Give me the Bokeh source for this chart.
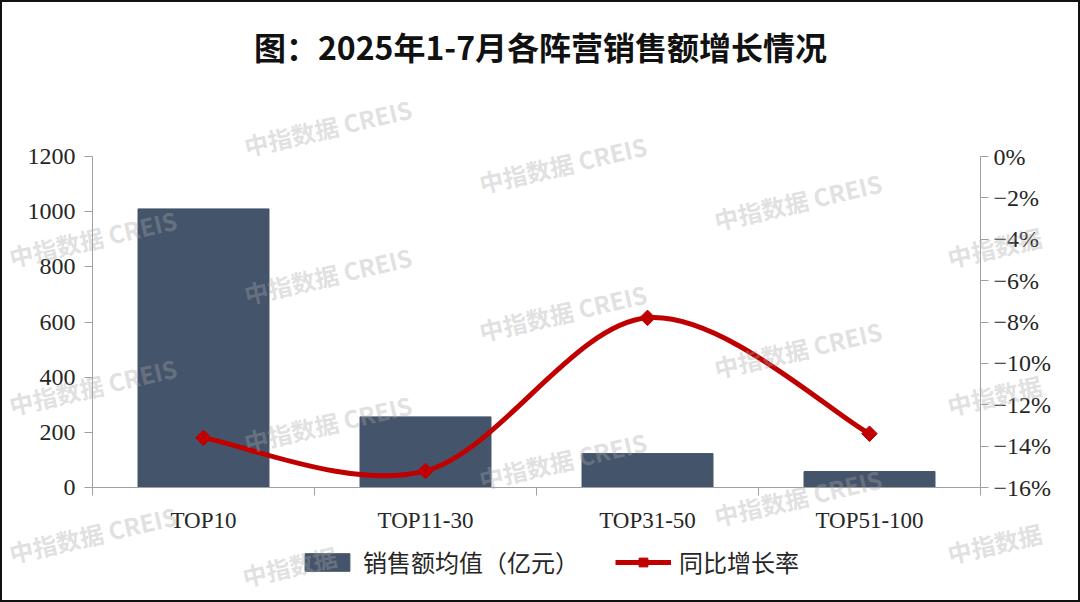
import numpy as np
from bokeh.plotting import figure
from bokeh.layouts import column
from bokeh.models import (Range1d, LinearAxis, FixedTicker, ColumnDataSource, Legend,
                          LegendItem, Label)
from bokeh.embed import file_html
from bokeh.resources import INLINE

# ---- data ----
categories = ["TOP10", "TOP11-30", "TOP31-50", "TOP51-100"]
sales_avg = [1010, 256, 123, 58]          # 销售额均值（亿元）
yoy_pct = [-13.6, -15.2, -7.8, -13.4]     # 同比增长率 (%)
left_ticks = [0, 200, 400, 600, 800, 1000, 1200]
right_ticks = [0, -2, -4, -6, -8, -10, -12, -14, -16]
right_labels = ["0%", "−2%", "−4%", "−6%", "−8%", "−10%", "−12%", "−14%", "−16%"]
title_text = "图：2025年1-7月各阵营销售额增长情况"
bar_label = "销售额均值（亿元）"
line_label = "同比增长率"
watermark = "中指数据  CREIS"
watermark_short = "中指数据"

BAR = "#44546A"
RED = "#C00000"
AXIS = "#A0A0A0"
TXT = "#262626"
WM_ANGLE = np.deg2rad(13)
WM = dict(angle=WM_ANGLE, text_align="center", text_baseline="middle",
          text_font="Noto Sans CJK SC", text_font_size="24px", text_font_style="bold",
          text_color="#A8A8A8", text_alpha=0.36)

n = len(categories)
xc = [i + 0.5 for i in range(n)]

# page layout (page pixels): head 2-120, chart 120-540, legend 540-600
W = 1076
FL, FR = 90, 98   # frame margins shared by all stacked figures (frame: page x 92..980)


def strip(h, top, bottom):
    f = figure(width=W, height=h, output_backend="svg", toolbar_location=None,
               x_range=Range1d(92, 980), y_range=Range1d(bottom, top),
               x_axis_location=None, y_axis_location=None,
               min_border_left=FL, min_border_right=FR, min_border_top=0,
               min_border_bottom=0)
    f.grid.grid_line_color = None
    f.outline_line_color = None
    return f


head = strip(118, 2, 120)
head.add_layout(Label(x=540, y=45, text=title_text, text_align="center",
                      text_baseline="middle", text_font="Noto Sans CJK SC",
                      text_font_style="bold", text_font_size="32px",
                      text_color="#111111"))

p = figure(width=W, height=420, output_backend="svg", toolbar_location=None,
           x_range=Range1d(0, n), y_range=Range1d(0, 1200),
           min_border_left=FL, min_border_right=FR, min_border_top=36,
           min_border_bottom=53)
p.extra_y_ranges = {"pct": Range1d(-16, 0)}
p.outline_line_color = None
p.grid.grid_line_color = None

# bars
src_bar = ColumnDataSource(dict(x=xc, top=sales_avg))
p.vbar(x="x", top="top", width=0.59, source=src_bar, fill_color=BAR, line_color=BAR)

# smooth line (cubic bezier through the data points, Catmull-Rom style tangents)
pts = list(zip(xc, yoy_pct))
x0s, y0s, x1s, y1s, cx0s, cy0s, cx1s, cy1s = ([] for _ in range(8))
for i in range(n - 1):
    pm = pts[i - 1] if i > 0 else pts[i]
    pa = pts[i]
    pb = pts[i + 1]
    pn = pts[i + 2] if i + 2 < n else pts[i + 1]
    x0s.append(pa[0]); y0s.append(pa[1])
    x1s.append(pb[0]); y1s.append(pb[1])
    cx0s.append(pa[0] + (pb[0] - pm[0]) / 6.0)
    cy0s.append(pa[1] + (pb[1] - pm[1]) / 6.0)
    cx1s.append(pb[0] - (pn[0] - pa[0]) / 6.0)
    cy1s.append(pb[1] - (pn[1] - pa[1]) / 6.0)
src_bz = ColumnDataSource(dict(x0=x0s, y0=y0s, x1=x1s, y1=y1s,
                               cx0=cx0s, cy0=cy0s, cx1=cx1s, cy1=cy1s))
bz_style = dict(line_color=RED, line_width=5)
mk_style = dict(marker="square", angle=np.pi / 4, size=11, fill_color=RED, line_color=RED)
p.bezier(x0="x0", y0="y0", x1="x1", y1="y1", cx0="cx0", cy0="cy0",
         cx1="cx1", cy1="cy1", source=src_bz, y_range_name="pct", **bz_style)
src_pt = ColumnDataSource(dict(x=xc, y=yoy_pct))
p.scatter(x="x", y="y", source=src_pt, y_range_name="pct", **mk_style)

# axes
xa = p.xaxis[0]
xa.ticker = FixedTicker(ticks=xc, minor_ticks=list(range(n + 1)))
xa.major_label_overrides = {xc[i]: categories[i] for i in range(n)}
xa.major_tick_line_color = None
xa.major_tick_out = 0
xa.major_tick_in = 0
xa.minor_tick_line_color = AXIS
xa.minor_tick_out = 8
xa.minor_tick_in = 0
xa.axis_line_color = AXIS
xa.major_label_text_font = "Liberation Serif"
xa.major_label_text_font_size = "23px"
xa.major_label_text_color = TXT
xa.major_label_standoff = 12

ya = p.yaxis[0]
ya.ticker = FixedTicker(ticks=left_ticks)
ya.minor_tick_line_color = None
ya.major_tick_out = 8
ya.major_tick_in = 0
ya.major_tick_line_color = AXIS
ya.axis_line_color = AXIS
ya.major_label_text_font = "Liberation Serif"
ya.major_label_text_font_size = "24px"
ya.major_label_text_color = TXT
ya.major_label_standoff = 9

ra = LinearAxis(y_range_name="pct", ticker=FixedTicker(ticks=right_ticks))
ra.major_label_overrides = {right_ticks[i]: right_labels[i] for i in range(len(right_ticks))}
ra.minor_tick_line_color = None
ra.major_tick_out = 8
ra.major_tick_in = 0
ra.major_tick_line_color = AXIS
ra.axis_line_color = AXIS
ra.major_label_text_font = "Liberation Serif"
ra.major_label_text_font_size = "24px"
ra.major_label_text_color = TXT
ra.major_label_standoff = 5
p.add_layout(ra, "right")

# legend strip: legend glyphs use the same data, mapped to ranges out of view
leg = strip(60, 540, 600)
leg.extra_x_ranges = {"off": Range1d(1e6, 1e6 + 1)}
leg.extra_y_ranges = {"off": Range1d(1e6, 1e6 + 1)}
lb = leg.vbar(x="x", top="top", width=0.59, source=src_bar, fill_color=BAR,
              line_color=BAR, x_range_name="off", y_range_name="off")
lc = leg.bezier(x0="x0", y0="y0", x1="x1", y1="y1", cx0="cx0", cy0="cy0",
                cx1="cx1", cy1="cy1", source=src_bz, x_range_name="off",
                y_range_name="off", **bz_style)
lm = leg.scatter(x="x", y="y", source=src_pt, x_range_name="off", y_range_name="off",
                 **mk_style)
legend = Legend(items=[LegendItem(label=bar_label, renderers=[lb]),
                       LegendItem(label=line_label, renderers=[lc, lm])],
                orientation="horizontal", location=(207, 21),
                glyph_width=56, glyph_height=22, label_standoff=8, spacing=36,
                padding=0, margin=0, border_line_color=None,
                background_fill_alpha=0,
                label_text_font="Noto Sans CJK SC", label_text_font_size="24px",
                label_text_color=TXT)
leg.add_layout(legend)

page = column(head, p, leg, spacing=0,
              styles={"border": "2px solid #111111", "background-color": "white"})

# watermark overlay (decoration) laid over the whole page, page pixel positions
wm = figure(width=1080, height=602, output_backend="svg", toolbar_location=None,
            x_range=Range1d(0, 1080), y_range=Range1d(602, 0),
            x_axis_location=None, y_axis_location=None, min_border=0,
            background_fill_alpha=0, border_fill_alpha=0,
            styles={"position": "absolute", "left": "0px", "top": "0px",
                    "pointer-events": "none"})
wm.background_fill_color = None
wm.border_fill_color = None
wm.grid.grid_line_color = None
wm.outline_line_color = None
for c, cx in enumerate([95, 330, 565, 800, 1035]):
    for k in range(4):
        py = 89 + 37 * c + 148 * k
        if py < 105 or py > 595:
            continue
        if cx + 85 > 1076 or py > 560:
            # only the leading part is visible at the page edge
            sx = cx - 41
            sy = py + 41 * np.tan(WM_ANGLE) - (14 if py > 560 else 0)
            wm.add_layout(Label(x=sx, y=sy, text=watermark_short, **WM))
        else:
            wm.add_layout(Label(x=cx, y=py, text=watermark, **WM))

open("out.html", "w").write(file_html([page, wm], INLINE))
